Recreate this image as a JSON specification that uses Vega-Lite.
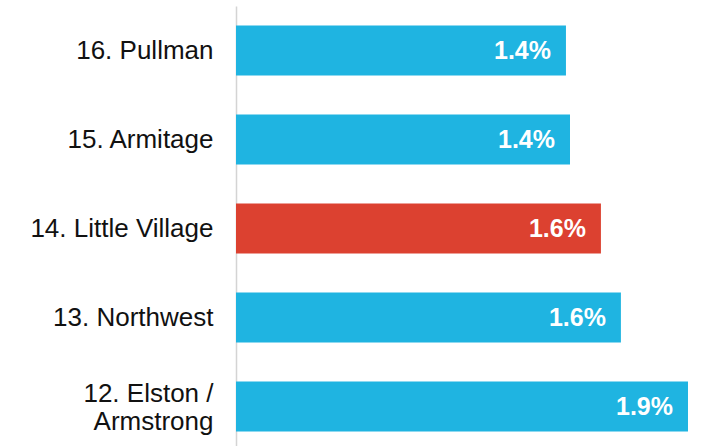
{
  "$schema": "https://vega.github.io/schema/vega-lite/v6.json",
  "autosize": "none",
  "width": 474,
  "height": 445,
  "padding": {"left": 236, "top": 6, "right": 0, "bottom": 0},
  "background": "white",
  "config": {"view": {"stroke": null}, "font": "Liberation Sans"},
  "data": {"values": [
    {"name": "16. Pullman", "value": 1.387, "label": "1.4%", "group": "other"},
    {"name": "15. Armitage", "value": 1.404, "label": "1.4%", "group": "other"},
    {"name": "14. Little Village", "value": 1.534, "label": "1.6%", "group": "highlight"},
    {"name": "13. Northwest", "value": 1.618, "label": "1.6%", "group": "other"},
    {"name": "12. Elston / Armstrong", "value": 1.9, "label": "1.9%", "group": "other"}
  ]},
  "encoding": {
    "y": {"field": "name", "type": "nominal", "sort": null,
      "scale": {"paddingInner": 0.44, "paddingOuter": 0.22},
      "axis": {"title": null, "ticks": false, "grid": false, "domain": true, "domainColor": "#d4d4d4", "domainWidth": 1.5,
        "labelFontSize": 26, "labelColor": "#111111", "labelPadding": 23, "labelLineHeight": 28, "labelLimit": 300,
        "labelOffset": {"condition": {"test": "indexof(datum.label, '/') >= 0", "value": -13}, "value": 0},
        "labelExpr": "split(replace(datum.label, '/ ', '/|'), '|')"}},
    "x": {"field": "value", "type": "quantitative", "scale": {"domain": [0, 1.9925], "nice": false, "zero": true}, "axis": null}
  },
  "layer": [
    {"mark": {"type": "bar"},
     "encoding": {"color": {"field": "group", "type": "nominal", "legend": null,
       "scale": {"domain": ["other", "highlight"], "range": ["#1fb4e1", "#dc4130"]}}}},
    {"mark": {"type": "text", "align": "right", "baseline": "middle", "dx": -15, "fontSize": 25, "fontWeight": "bold", "color": "white"},
     "encoding": {"text": {"field": "label"}}}
  ]
}
